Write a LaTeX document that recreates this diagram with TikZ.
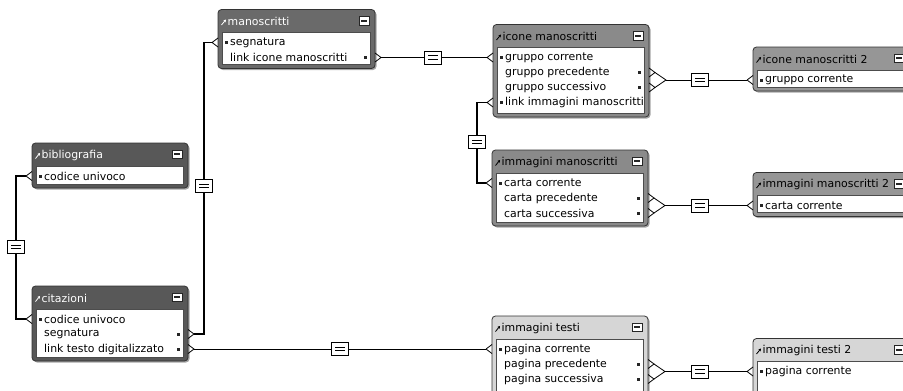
\documentclass[tikz,border=0pt]{standalone}
\usepackage{fontspec}
\setmainfont{DejaVu Sans}
\usetikzlibrary{shadows,arrows.meta,calc}
\definecolor{hdA}{HTML}{585858}
\definecolor{hdB}{HTML}{6A6A6A}
\definecolor{hdC}{HTML}{8A8A8A}
\definecolor{hdD}{HTML}{969696}
\definecolor{hdE}{HTML}{D6D6D6}
\tikzset{
  titletxt/.style={anchor=west,inner sep=0pt,font=\fontsize{10.9}{12}\selectfont},
  rowtxt/.style={anchor=west,inner sep=0pt,font=\fontsize{10.9}{12}\selectfont,text=black},
  crow/.style={draw=black,line width=0.8pt},
  thinc/.style={draw=black,line width=0.8pt},
  thickc/.style={draw=black,line width=1.7pt},
  eqbox/.style={draw=black,line width=0.9pt,fill=white,minimum width=17pt,minimum height=13pt,inner sep=0pt,
    path picture={\draw[line width=0.9pt] ($(path picture bounding box.center)+(-5,-1.8)$) -- ++(10,0)
                                          ($(path picture bounding box.center)+(-5,1.8)$) -- ++(10,0);}},
  boxshadow/.style={drop shadow={shadow xshift=1.5pt,shadow yshift=-1.5pt,opacity=.35,fill=black}}
}
% name, x, y, w, h, header fill, title colour, title
\newcommand\erBox[8]{%
  \begin{scope}[shift={(#2,#3)}]
    \path[fill=#6,draw=black!80,line width=0.8pt,rounded corners=3.5pt,boxshadow] (0,0) rectangle (#4,#5);
    \path[fill=white,draw=black!70,line width=0.7pt] (4.5,23) rectangle (#4-4.5,#5-4);
    \draw[#7,line width=0.8pt,-{Stealth[length=2.6pt,width=3pt]}] (3.5,15.5) -- (8,10);
    \node[titletxt,text=#7] (#1) at (9.5,12) {#8};
    \path[fill=white,draw=black!85,line width=0.7pt] (#4-16,7) rectangle (#4-6,15.5);
    \fill[black!85] (#4-14,10.3) rectangle (#4-8,12.3);
  \end{scope}}
% name, x of table, y of row, text
\newcommand\rowL[4]{%
  \fill[black!85] (#2+7,#3-1.5) rectangle ++(3,3);
  \node[rowtxt] (#1) at (#2+12,#3) {#4};}
% name, x of table, y of row, text, right edge of table
\newcommand\rowR[5]{%
  \fill[black!85] (#5-11,#3-1.5) rectangle ++(3,3);
  \node[rowtxt] (#1) at (#2+12,#3) {#4};}
\newcommand\crowL[2]{\draw[crow] (#1-6,#2) -- (#1,#2-4.5) (#1-6,#2) -- (#1,#2+4.5);}
\newcommand\chevR[2]{\draw[crow] (#1,#2-4.5) -- (#1+6,#2) -- (#1,#2+4.5);}
\newcommand\forkR[3]{\chevR{#1}{#2}\chevR{#1}{#3}%
  \draw[crow] (#1+6,#2) -- (#1+17,{(#2+#3)/2}) -- (#1+6,#3);}

\begin{document}
\begin{tikzpicture}[x=1pt,y=-1pt]
\useasboundingbox (0,0) rectangle (903,391);
\clip (0,0) rectangle (903,391);
\fill[white] (0,0) rectangle (903,391);

% ---------- tables ----------
\erBox{bib}{32}{143}{156}{45}{hdA}{white}{bibliografia}
\rowL{bib1}{32}{176}{codice univoco}

\erBox{cit}{32}{286}{156}{75}{hdA}{white}{citazioni}
\rowL{cit1}{32}{319}{codice univoco}
\rowR{cit2}{32}{334}{segnatura}{188}
\rowR{cit3}{32}{349}{link testo digitalizzato}{188}

\erBox{man}{218}{9.5}{157}{59}{hdB}{white}{manoscritti}
\rowL{man1}{218}{42.5}{segnatura}
\rowR{man2}{218}{57.5}{link icone manoscritti}{375}

\erBox{ico}{493}{24.5}{156}{92.5}{hdC}{black}{icone manoscritti}
\rowL{ico1}{493}{57.5}{gruppo corrente}
\rowR{ico2r}{493}{72.5}{gruppo precedente}{649}
\rowR{ico3}{493}{87.5}{gruppo successivo}{649}
\rowL{ico4}{493}{102.5}{link immagini manoscritti}

\erBox{imm}{492}{150}{156}{76}{hdC}{black}{immagini manoscritti}
\rowL{imm1}{492}{183}{carta corrente}
\rowR{imm2r}{492}{198}{carta precedente}{648}
\rowR{imm3}{492}{213}{carta successiva}{648}

\erBox{icoB}{753}{47}{157}{44}{hdD}{black}{icone manoscritti 2}
\rowL{icoB1}{753}{80}{gruppo corrente}

\erBox{immB}{753}{172.5}{157}{44}{hdD}{black}{immagini manoscritti 2}
\rowL{immB1}{753}{205.5}{carta corrente}

\erBox{tst}{492}{316}{156}{85}{hdE}{black}{immagini testi}
\rowL{tst1}{492}{349}{pagina corrente}
\rowR{tst2r}{492}{364}{pagina precedente}{648}
\rowR{tst3}{492}{379}{pagina successiva}{648}

\erBox{tstB}{753}{338.5}{157}{60}{hdE}{black}{immagini testi 2}
\rowL{tstB1}{753}{371.5}{pagina corrente}

% ---------- connector end points ----------
\coordinate (bibA) at (26,176);
\coordinate (cit1A) at (26,319);
\coordinate (cit2A) at (194,334);
\coordinate (cit3A) at (194,349);
\coordinate (man1A) at (212,42.5);
\coordinate (man2A) at (381,57.5);
\coordinate (ico1A) at (487,57.5);
\coordinate (ico4A) at (487,102.5);
\coordinate (icoM) at (666,80);
\coordinate (imm1A) at (486,183);
\coordinate (immM) at (665,205.5);
\coordinate (icoBA) at (747,80);
\coordinate (immBA) at (747,205.5);
\coordinate (tst1A) at (486,349);
\coordinate (tstM) at (665,371.5);
\coordinate (tstBA) at (747,371.5);

% ---------- crow's feet ----------
\crowL{32}{176}
\crowL{32}{319}
\chevR{188}{334}
\chevR{188}{349}
\crowL{218}{42.5}
\chevR{375}{57.5}
\crowL{493}{57.5}
\crowL{493}{102.5}
\forkR{649}{72.5}{87.5}
\crowL{492}{183}
\forkR{648}{198}{213}
\crowL{753}{80}
\crowL{753}{205.5}
\crowL{492}{349}
\forkR{648}{364}{379}
\crowL{753}{371.5}

% ---------- connectors ----------
\draw[thickc] (bibA) -- ++(-10,0) |- (cit1A);
\draw[thickc] (cit2A) -- (204,334) |- (man1A);
\draw[thinc] (man2A) -- (ico1A);
\draw[thickc] (ico4A) -- (477,102.5) |- (imm1A);
\draw[thinc] (icoM) -- (icoBA);
\draw[thinc] (immM) -- (immBA);
\draw[thinc] (cit3A) -- (tst1A);
\draw[thinc] (tstM) -- (tstBA);

% ---------- equality markers ----------
\node[eqbox] (eq1) at (16,247) {};
\node[eqbox] (eq2) at (204,186) {};
\node[eqbox] (eq3) at (433,57.5) {};
\node[eqbox] (eq4) at (477,142) {};
\node[eqbox] (eq5) at (700,80) {};
\node[eqbox] (eq6) at (700,205.5) {};
\node[eqbox] (eq7) at (340,349) {};
\node[eqbox] (eq8) at (700,371.5) {};
\end{tikzpicture}
\end{document}
